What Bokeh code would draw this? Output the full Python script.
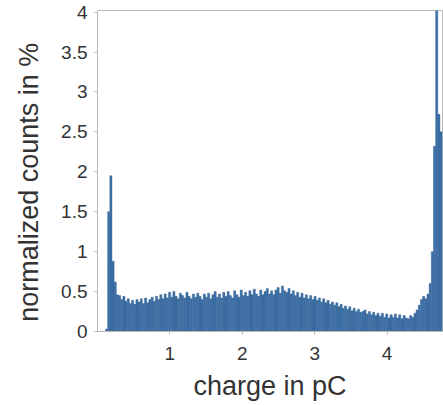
from bokeh.plotting import figure
from bokeh.models import Range1d, FixedTicker, CustomJSTickFormatter
from bokeh.embed import file_html
from bokeh.resources import INLINE

# histogram data (normalized counts in %), bins of equal width
bin_start = 0.11
bin_width = 0.03
counts = [
    0.03, 1.50, 1.95, 0.88, 0.62, 0.46,
    0.45, 0.40, 0.44, 0.38, 0.41, 0.35, 0.39, 0.34, 0.40, 0.37,
    0.41, 0.35, 0.42, 0.36, 0.40, 0.43, 0.38, 0.44, 0.40, 0.46,
    0.41, 0.47, 0.42, 0.49, 0.43, 0.50, 0.44, 0.41, 0.48, 0.45,
    0.42, 0.49, 0.44, 0.41, 0.47, 0.43, 0.48, 0.44, 0.40, 0.47,
    0.43, 0.48, 0.41, 0.46, 0.50, 0.43, 0.47, 0.42, 0.49, 0.44,
    0.50, 0.45, 0.42, 0.51, 0.46, 0.43, 0.52, 0.45, 0.49, 0.44,
    0.51, 0.46, 0.53, 0.47, 0.44, 0.52, 0.46, 0.50, 0.54, 0.47,
    0.51, 0.46, 0.52, 0.55, 0.48, 0.57, 0.51, 0.49, 0.54, 0.47,
    0.51, 0.45, 0.49, 0.43, 0.48, 0.42, 0.46, 0.41, 0.45, 0.40,
    0.44, 0.39, 0.42, 0.37, 0.41, 0.36, 0.39, 0.34, 0.37, 0.33,
    0.36, 0.31, 0.34, 0.29, 0.32, 0.28, 0.31, 0.26, 0.29, 0.25,
    0.28, 0.24, 0.25, 0.27, 0.22, 0.25, 0.21, 0.24, 0.20, 0.23,
    0.19, 0.23, 0.18, 0.22, 0.17, 0.21, 0.18, 0.22, 0.17, 0.21,
    0.16, 0.20, 0.17, 0.16, 0.20, 0.18, 0.23, 0.27, 0.33, 0.40,
    0.44, 0.41, 0.47, 0.60,
    1.00, 2.32, 4.50, 2.72, 2.50,
]
centers = [bin_start + bin_width * (i + 0.5) for i in range(len(counts))]

x_ticks = [1, 2, 3, 4]
y_ticks = [0, 0.5, 1, 1.5, 2, 2.5, 3, 3.5, 4]
x_label = "charge in pC"
y_label = "normalized counts in %"

FONT = "Liberation Sans"
TEXT = "#333333"
AXIS = "#b8b8b8"

p = figure(width=443, height=405, output_backend="svg", toolbar_location=None,
           x_range=Range1d(0, 4.765), y_range=Range1d(0, 4.02),
           min_border_left=97, min_border_right=1, min_border_top=10,
           min_border_bottom=74)
p.vbar(x=centers, top=counts, width=bin_width, fill_color="#3d6fa6",
       line_color="#2f5f92", line_width=0.4)

p.xgrid.visible = False
p.ygrid.visible = False
p.outline_line_color = AXIS
p.outline_line_width = 1
p.background_fill_color = "white"
p.border_fill_color = "white"

for ax in (p.xaxis[0], p.yaxis[0]):
    ax.axis_line_color = AXIS
    ax.major_tick_line_color = AXIS
    ax.minor_tick_line_color = None
    ax.major_tick_out = 3
    ax.major_tick_in = 0
    ax.major_label_text_font = FONT
    ax.major_label_text_font_size = "19px"
    ax.major_label_text_color = TEXT
    ax.axis_label_text_font = FONT
    ax.axis_label_text_font_size = "27px"
    ax.axis_label_text_font_style = "normal"
    ax.axis_label_text_color = TEXT

p.xaxis.ticker = FixedTicker(ticks=x_ticks)
p.yaxis.ticker = FixedTicker(ticks=y_ticks)
fmt = "return String(Math.round(tick * 10) / 10);"
p.xaxis.formatter = CustomJSTickFormatter(code=fmt)
p.yaxis.formatter = CustomJSTickFormatter(code=fmt)
p.xaxis.axis_label = x_label
# trailing no-break spaces only recentre the rotated label lower on the axis
p.yaxis.axis_label = y_label + "\u00a0\u00a0\u00a0"
p.xaxis.major_label_standoff = 12
p.yaxis.major_label_standoff = 7
p.xaxis.axis_label_standoff = 8
p.yaxis.axis_label_standoff = 14

open("out.html", "w").write(file_html(p, INLINE))
